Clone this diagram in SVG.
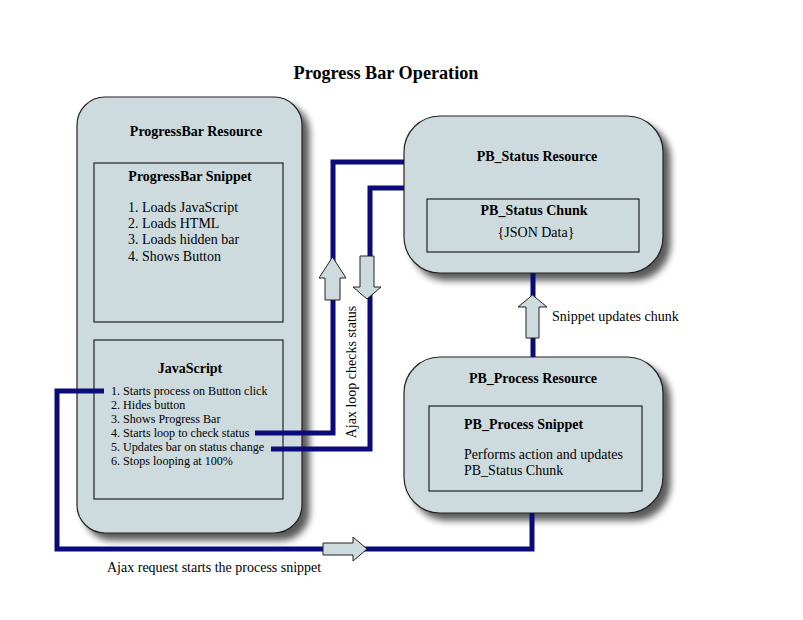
<svg xmlns="http://www.w3.org/2000/svg" width="803" height="620" viewBox="0 0 803 620">
<defs>
<style>
.res{fill:#cddbde;stroke:#222;stroke-width:1.2}
.box{fill:none;stroke:#222;stroke-width:1.2}
.con{fill:none;stroke:#0a0a78;stroke-width:5}
.arr{fill:#cddbde;stroke:#222;stroke-width:1}
text{font-family:"Liberation Serif","Times New Roman",serif;fill:#000}
.b{font-weight:bold;font-size:14px}
.t{font-size:14px}
.s{font-size:12.1px}
</style>
<filter id="sh" x="-20%" y="-20%" width="140%" height="140%">
<feGaussianBlur in="SourceAlpha" stdDeviation="3.5"/>
<feOffset dx="7" dy="7" result="o"/>
<feComponentTransfer><feFuncA type="linear" slope="0.65"/></feComponentTransfer>
<feMerge><feMergeNode/><feMergeNode in="SourceGraphic"/></feMerge>
</filter>
</defs>
<rect width="803" height="620" fill="#fff"/>
<text x="386" y="79" text-anchor="middle" font-size="18.2" font-weight="bold">Progress Bar Operation</text>

<g id="progressbar-resource">
<rect class="res" x="77" y="97" width="225" height="436" rx="28" filter="url(#sh)"/>
<text class="b" x="196" y="136" text-anchor="middle">ProgressBar Resource</text>
<g id="progressbar-snippet">
<rect class="box" x="94" y="163" width="189" height="159"/>
<text class="b" x="190" y="181" text-anchor="middle">ProgressBar Snippet</text>
<text class="t" x="128" y="212">1. Loads JavaScript</text>
<text class="t" x="128" y="228">2. Loads HTML</text>
<text class="t" x="128" y="244">3. Loads hidden bar</text>
<text class="t" x="128" y="261">4. Shows Button</text>
</g>
<g id="javascript">
<rect class="box" x="94" y="340" width="189" height="159"/>
<text class="b" x="190" y="373" text-anchor="middle">JavaScript</text>
<text class="s" x="111" y="395">1. Starts process on Button click</text>
<text class="s" x="111" y="409">2. Hides button</text>
<text class="s" x="111" y="423">3. Shows Progress Bar</text>
<text class="s" x="111" y="437">4. Starts loop to check status</text>
<text class="s" x="111" y="451">5. Updates bar on status change</text>
<text class="s" x="111" y="465">6. Stops looping at 100%</text>
</g>
</g>

<g id="pb-status-resource">
<rect class="res" x="404" y="116" width="259" height="157" rx="36" filter="url(#sh)"/>
<text class="b" x="537" y="161" text-anchor="middle">PB_Status Resource</text>
<g id="pb-status-chunk">
<rect class="box" x="427" y="199" width="212" height="53"/>
<text class="b" x="534" y="215" text-anchor="middle">PB_Status Chunk</text>
<text class="t" x="536" y="237" text-anchor="middle">{JSON Data}</text>
</g>
</g>

<g id="pb-process-resource">
<rect class="res" x="404" y="357" width="259" height="156" rx="36" filter="url(#sh)"/>
<text class="b" x="533" y="383" text-anchor="middle">PB_Process Resource</text>
<g id="pb-process-snippet">
<rect class="box" x="429" y="406" width="213" height="85"/>
<text class="b" x="464" y="429">PB_Process Snippet</text>
<text class="t" x="464" y="459">Performs action and updates</text>
<text class="t" x="464" y="475">PB_Status Chunk</text>
</g>
</g>

<g id="connectors">
<polyline class="con" points="104,391 57,391 57,549 532,549 532,513"/>
<polygon class="arr" points="323,543 353,543 353,537 367,549 353,561 353,555 323,555"/>
<text class="t" x="107" y="572">Ajax request starts the process snippet</text>

<polyline class="con" points="255,433 333,433 333,162 404,162"/>
<polygon class="arr" points="325,300 340,300 340,278 346,278 332.5,257 319,278 325,278"/>

<polyline class="con" points="271,449 370,449 370,188 404,188"/>
<polygon class="arr" points="360,256 374,256 374,287 381,287 367,299 353,287 360,287"/>
<text class="t" transform="translate(356,372) rotate(-90)" text-anchor="middle">Ajax loop checks status</text>

<line class="con" x1="533" y1="273" x2="533" y2="357"/>
<polygon class="arr" points="526,338 539,338 539,307 547,307 532.5,295 518,307 526,307"/>
<text class="t" x="552" y="321">Snippet updates chunk</text>
</g>
</svg>
